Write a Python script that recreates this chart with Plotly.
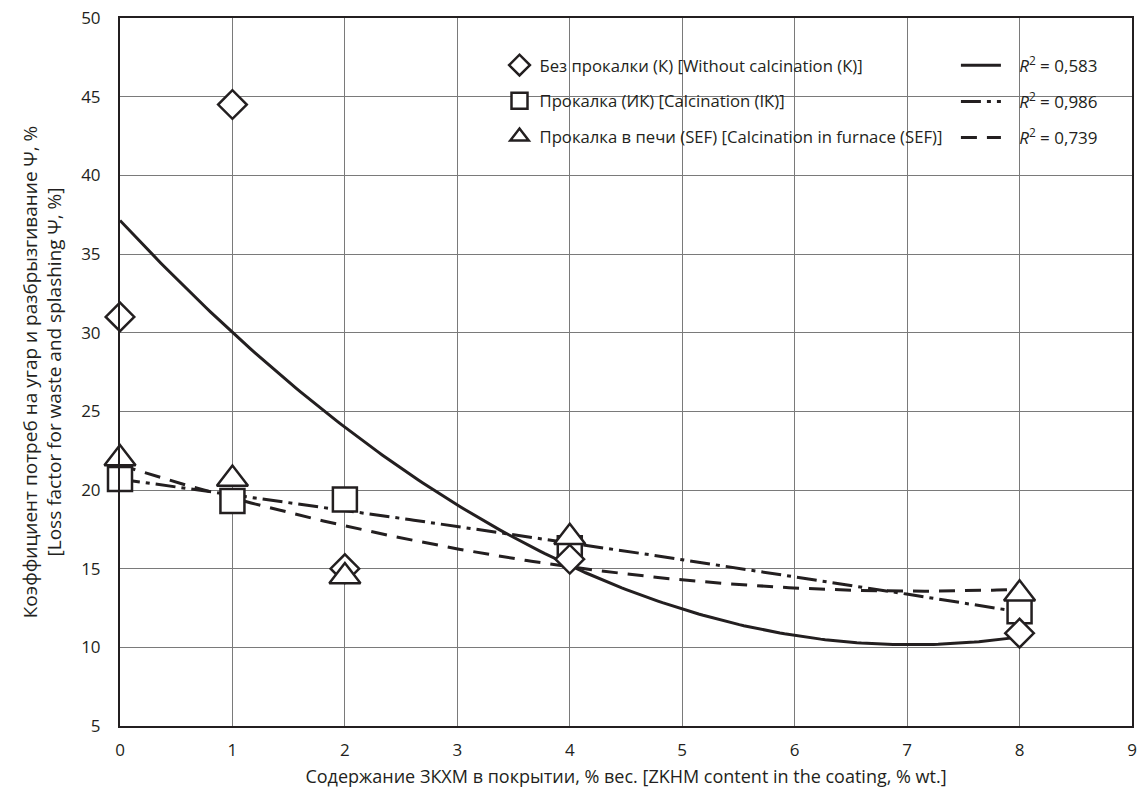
import numpy as np
import plotly.graph_objects as go

# ---- data ----
x_vals = [0, 1, 2, 4, 8]
k_vals = [31.0, 44.5, 15.0, 15.6, 10.9]      # Без прокалки (К)
ik_vals = [20.7, 19.3, 19.4, 16.3, 12.3]     # Прокалка (ИК)
sef_vals = [22.0, 20.7, 14.5, 17.0, 13.4]    # Прокалка в печи (SEF)

marker_names = [
    "Без прокалки (К) [Without calcination (К)]",
    "Прокалка (ИК) [Calcination (IК)]",
    "Прокалка в печи (SEF) [Calcination in furnace (SEF)]",
]
r2_labels = ["0,583", "0,986", "0,739"]
x_ticks = list(range(0, 10))
y_ticks = list(range(5, 55, 5))

INK = "#231f20"
FONT = "Open Sans, Noto Sans, sans-serif"

fig = go.Figure()

# trend lines (2nd order polynomial fits of each series)
xf = np.linspace(0, 8, 200)
dashes = ["solid", "20px,6px,4px,6px", "16px,10px"]
for i, (ys, dash) in enumerate(zip([k_vals, ik_vals, sef_vals], dashes)):
    coef = np.polyfit(x_vals, ys, 2)
    fig.add_trace(go.Scatter(
        x=xf, y=np.polyval(coef, xf), mode="lines",
        line=dict(color=INK, width=3, dash=dash),
        name=f"\u00a0\u00a0\u00a0<i>R</i><sup>2</sup> = {r2_labels[i]}",
        legend="legend2", legendgroup=f"l{i}", legendrank=i + 1,
        hoverinfo="skip",
    ))

# markers: squares first, then diamonds, then triangles (draw order)
specs = [
    (ik_vals, "square", 24, marker_names[1], 2),
    (k_vals, "diamond", 22, marker_names[0], 1),
    (sef_vals, "triangle-up", 27, marker_names[2], 3),
]
for ys, sym, sz, nm, rank in specs:
    fig.add_trace(go.Scatter(
        x=x_vals, y=ys, mode="markers", name=nm,
        marker=dict(symbol=sym, size=sz, color="white",
                    line=dict(color=INK, width=2.5)),
        legend="legend", legendgroup=f"m{rank}", legendrank=rank,
        cliponaxis=False,
    ))

axis_common = dict(
    showgrid=True, gridcolor="#7a7a7a", gridwidth=1,
    showline=True, linecolor=INK, linewidth=2, mirror=True,
    zeroline=False, ticks="", automargin=False,
    tickfont=dict(family=FONT, size=17, color=INK),
)

fig.update_layout(
    width=1148, height=790,
    margin=dict(l=120, r=16, t=18, b=64),
    paper_bgcolor="white", plot_bgcolor="white",
    font=dict(family=FONT, color=INK),
    xaxis=dict(range=[0, 9], tickvals=x_ticks, ticklabelstandoff=8,
               title=dict(text="Содержание ЗКХМ в покрытии, % вес. [ZKHM content in the coating, % wt.]",
                          font=dict(family=FONT, size=18, color=INK), standoff=10),
               **axis_common),
    yaxis=dict(range=[5, 50], tickvals=y_ticks, ticklabelstandoff=14,
               title=dict(text="Коэффициент потреб на угар и разбрызгивание Ψ, %<br>[Loss factor for waste and splashing Ψ, %]",
                          font=dict(family=FONT, size=19, color=INK),
                          standoff=14),
               **axis_common),
    legend=dict(x=0.375, y=0.958, xanchor="left", yanchor="top",
                bgcolor="rgba(0,0,0,0)", borderwidth=0,
                font=dict(family=FONT, size=16.7, color=INK),
                tracegroupgap=11, itemsizing="trace"),
    legend2=dict(x=0.826, y=0.958, xanchor="left", yanchor="top",
                 bgcolor="rgba(0,0,0,0)", borderwidth=0,
                 font=dict(family=FONT, size=17, color=INK),
                 tracegroupgap=11, itemwidth=40),
    shapes=[dict(type="rect", xref="paper", yref="paper",
                 x0=0.3706, x1=0.976, y0=0.802, y1=0.955,
                 fillcolor="white", line=dict(width=0), layer="between")],
    showlegend=True,
)

fig.write_html("out.html", config={"displayModeBar": False})

# remove the browser's default 8px body margin so the figure sits at (0,0)
with open("out.html", "r", encoding="utf-8") as f:
    html = f.read()
html = html.replace("<head>", "<head><style>html,body{margin:0;padding:0;}</style>", 1)
with open("out.html", "w", encoding="utf-8") as f:
    f.write(html)
